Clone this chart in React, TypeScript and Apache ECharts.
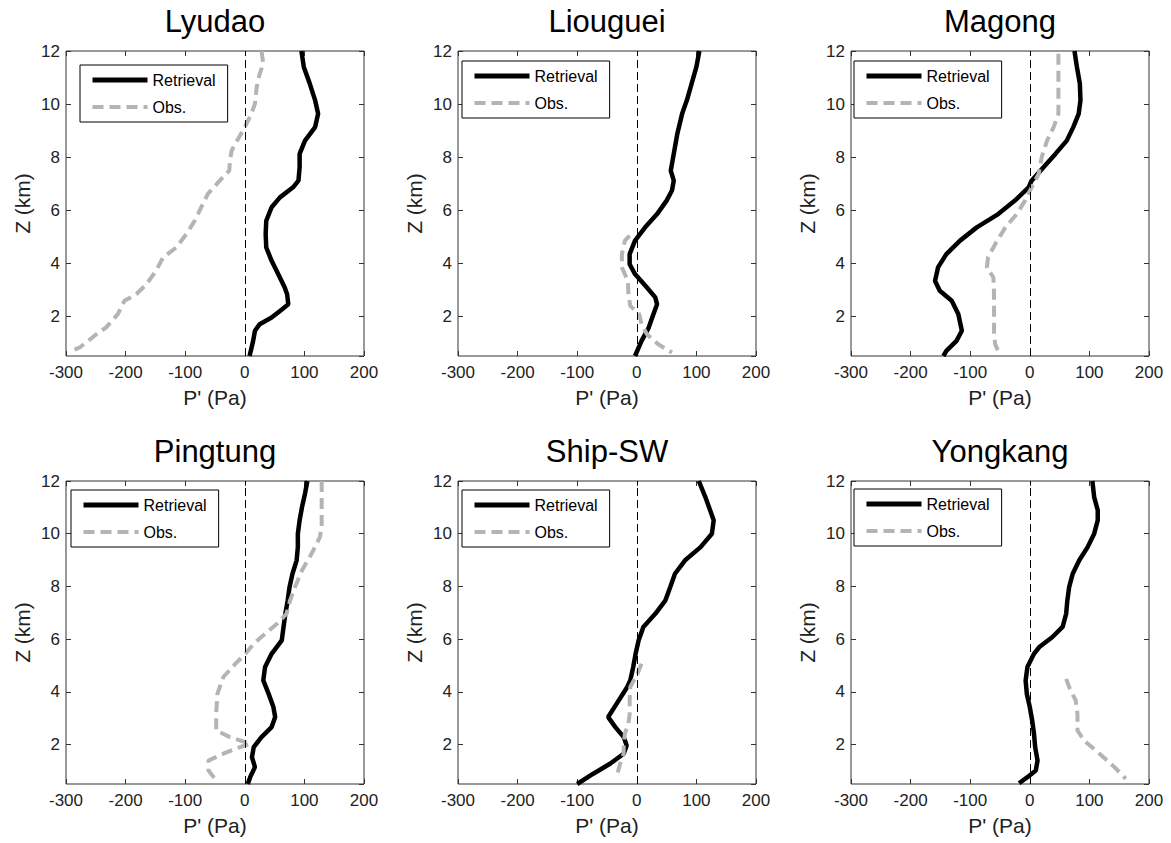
import React, { useEffect, useRef } from "react";
import * as echarts from "echarts";

// [P' (Pa), Z (km)] pairs
const lyudaoRetrieval = [[95,12],[99,11.4],[109,10.77],[118,10.14],[123,9.63],[118,9.13],[101,8.62],[92,8.12],[92,7.62],[90,7.11],[81,6.86],[59,6.48],[45,6.11],[36,5.6],[35,5.1],[36,4.59],[45,4.09],[56,3.59],[67,3.08],[71,2.83],[73,2.45],[59,2.2],[45,1.95],[25,1.7],[17,1.45],[14,1.07],[8,0.5]];
const lyudaoObs = [[28,12],[31,11.52],[25,11.14],[20,10.64],[17,10.01],[11,9.63],[0,9.13],[-13,8.62],[-22,8.25],[-25,7.87],[-26,7.49],[-42,7.11],[-62,6.61],[-73,6.11],[-84,5.6],[-98,5.1],[-115,4.59],[-137,4.22],[-149,3.71],[-165,3.21],[-182,2.83],[-202,2.58],[-213,2.08],[-233,1.57],[-249,1.32],[-277,0.82],[-291,0.69]];

const liougueiRetrieval = [[105,12],[100,11.4],[92,10.77],[84,10.14],[76,9.63],[68,8.88],[62,8.12],[57,7.49],[62,7.11],[59,6.74],[50,6.36],[34,5.85],[14,5.35],[-3,4.85],[-12,4.34],[-12,3.96],[-3,3.59],[17,3.08],[31,2.71],[34,2.45],[28,2.08],[20,1.57],[8,1.07],[-3,0.5]];
const liougueiObs = [[-12,5.04],[-20,4.85],[-25,4.34],[-25,3.84],[-15,3.33],[-14,2.83],[-11,2.39],[4,2.08],[8,1.7],[17,1.32],[36,0.94],[59,0.63]];

const magongRetrieval = [[75,12],[79,11.4],[84,10.77],[85,10.14],[82,9.63],[73,9.13],[62,8.62],[43,8.12],[23,7.62],[3,7.11],[-2,6.86],[-25,6.36],[-53,5.85],[-89,5.35],[-117,4.85],[-140,4.34],[-154,3.84],[-159,3.33],[-151,2.96],[-131,2.58],[-120,2.08],[-114,1.45],[-123,1.07],[-140,0.69],[-145,0.5]];
const magongObs = [[48,11.9],[48,10.77],[48,9.63],[40,9.13],[29,8.62],[20,8.0],[15,7.37],[3,6.86],[-8,6.36],[-22,5.85],[-41,5.35],[-58,4.72],[-70,4.22],[-72,3.84],[-61,3.46],[-60,2.83],[-60,1.95],[-60,1.32],[-58,0.94],[-53,0.69]];

const pingtungRetrieval = [[105,12],[101,11.52],[96,11.01],[92,10.51],[89,10.0],[89,9.49],[87,8.99],[80,8.48],[75,7.97],[72,7.47],[68,6.96],[65,6.46],[62,5.95],[45,5.44],[34,4.94],[31,4.43],[40,3.92],[48,3.42],[51,3.04],[45,2.66],[28,2.28],[15,1.9],[12,1.52],[17,1.14],[9,0.76],[5,0.5]];
const pingtungObs = [[129,12],[129,11.14],[129,10.25],[126,9.87],[112,9.24],[96,8.61],[84,7.97],[76,7.47],[70,6.96],[54,6.58],[34,6.2],[15,5.82],[1,5.44],[-16,5.06],[-36,4.56],[-46,3.92],[-48,3.16],[-48,2.53],[-25,2.28],[9,2.03],[-8,1.9],[-36,1.65],[-61,1.39],[-61,1.01],[-50,0.7]];

const shipSWRetrieval = [[104,12],[115,11.39],[123,10.89],[129,10.51],[126,10.0],[107,9.49],[81,8.99],[64,8.48],[56,7.97],[48,7.47],[31,6.96],[11,6.46],[3,5.95],[-2,5.44],[-6,4.94],[-11,4.43],[-16,4.18],[-34,3.54],[-48,3.04],[-36,2.66],[-22,2.28],[-17,1.96],[-22,1.65],[-45,1.27],[-73,0.89],[-100,0.5]];
const shipSWObs = [[8,5.06],[1,4.68],[-11,4.18],[-12,3.67],[-12,3.16],[-14,2.78],[-20,2.41],[-22,2.03],[-22,1.65],[-28,1.27],[-34,0.76]];

const yongkangRetrieval = [[105,12],[108,11.39],[114,10.89],[114,10.51],[108,10.0],[97,9.49],[83,8.99],[72,8.48],[66,7.97],[63,7.47],[61,6.96],[55,6.46],[38,6.08],[16,5.7],[7,5.44],[-4,4.94],[-7,4.43],[-5,3.92],[0,3.42],[4,2.91],[7,2.41],[9,1.9],[13,1.39],[10,1.01],[-4,0.76],[-18,0.53]];
const yongkangObs = [[61,4.49],[66,4.18],[77,3.67],[80,3.16],[80,2.53],[91,2.15],[117,1.65],[142,1.14],[161,0.7]];

const stationNames = ["Lyudao", "Liouguei", "Magong", "Pingtung", "Ship-SW", "Yongkang"];
const retrievalData = [lyudaoRetrieval, liougueiRetrieval, magongRetrieval, pingtungRetrieval, shipSWRetrieval, yongkangRetrieval];
const obsData = [lyudaoObs, liougueiObs, magongObs, pingtungObs, shipSWObs, yongkangObs];
const seriesNames = ["Retrieval", "Obs."];
const xRange = [-300, 200];
const yRange = [0.5, 12];

// layout
const gridLefts = [66, 458, 851];
const gridTops = [51, 481];
const gridHeights = [305, 303];
const gridWidth = 298;
const legendPos = [[80, 65], [462, 61], [854, 61], [71, 490], [462, 490], [854, 489]];
const titleTops = [6, 436];

const FONT = "'Liberation Sans', Arial, Helvetica, sans-serif";
const GRAY = "#b4b4b4";
const OBS_DASH = [11, 6];

function buildOption() {
  const grid: any[] = [];
  const xAxis: any[] = [];
  const yAxis: any[] = [];
  const series: any[] = [];
  const title: any[] = [];
  const legend: any[] = [];
  const hiddenSymbol = { color: "rgba(0,0,0,0)", borderWidth: 0, opacity: 0 };

  for (let i = 0; i < 6; i++) {
    const col = i % 3;
    const row = Math.floor(i / 3);
    const left = gridLefts[col];
    const top = gridTops[row];
    const height = gridHeights[row];
    grid.push({
      left, top, width: gridWidth, height,
      show: true, borderColor: "#333", borderWidth: 1, backgroundColor: "#fff",
    });
    title.push({
      text: stationNames[i],
      left: left + gridWidth / 2,
      top: titleTops[row],
      textAlign: "center",
      padding: 0,
      textStyle: { fontSize: 31, fontWeight: "normal", color: "#000", fontFamily: FONT },
    });
    const tick = { show: true, inside: true, length: 5, lineStyle: { color: "#333", width: 1 } };
    xAxis.push({
      type: "value", gridIndex: i, position: "bottom", min: xRange[0], max: xRange[1], interval: 100,
      axisLine: { show: false, onZero: false }, axisTick: tick, splitLine: { show: false },
      axisLabel: { margin: 8, fontSize: 17, color: "#222", fontFamily: FONT },
      name: "P' (Pa)", nameLocation: "middle", nameGap: 31, nameMoveOverlap: false,
      nameTextStyle: { fontSize: 21, color: "#222", fontFamily: FONT },
    });
    xAxis.push({
      type: "value", gridIndex: i, position: "top", min: xRange[0], max: xRange[1], interval: 100,
      axisLine: { show: false, onZero: false }, axisTick: tick, splitLine: { show: false },
      axisLabel: { show: false },
    });
    yAxis.push({
      type: "value", gridIndex: i, position: "left", min: yRange[0], max: yRange[1], splitNumber: 5,
      axisLine: { show: false, onZero: false }, axisTick: tick, splitLine: { show: false },
      axisLabel: { margin: 6, fontSize: 17, color: "#222", fontFamily: FONT, showMinLabel: false },
      name: "Z (km)", nameLocation: "middle", nameGap: 33, nameMoveOverlap: false,
      nameTextStyle: { fontSize: 21, color: "#222", fontFamily: FONT },
    });
    yAxis.push({
      type: "value", gridIndex: i, position: "right", min: yRange[0], max: yRange[1], splitNumber: 5,
      axisLine: { show: false, onZero: false }, axisTick: tick, splitLine: { show: false },
      axisLabel: { show: false },
    });
    series.push({
      name: seriesNames[0], type: "line", xAxisIndex: 2 * i, yAxisIndex: 2 * i,
      data: retrievalData[i], symbol: "none", showSymbol: false,
      lineStyle: { color: "#000", width: 4.5 }, itemStyle: { color: "#000" },
      markLine: {
        silent: true, symbol: ["none", "none"], label: { show: false },
        lineStyle: { color: "#000", width: 1, type: [8, 4] },
        data: [{ xAxis: 0 }],
      },
      z: 3,
    });
    series.push({
      name: seriesNames[1], type: "line", xAxisIndex: 2 * i, yAxisIndex: 2 * i,
      data: obsData[i], symbol: "none", showSymbol: false,
      lineStyle: { color: GRAY, width: 4, type: OBS_DASH }, itemStyle: { color: GRAY },
      z: 4,
    });
    legend.push({
      orient: "vertical",
      left: legendPos[i][0], top: legendPos[i][1],
      itemWidth: 55, itemHeight: 16, itemGap: 11,
      padding: [7, 12, 7, 10],
      borderColor: "#000", borderWidth: 1, backgroundColor: "#fff",
      selectedMode: false,
      textStyle: { fontSize: 16, color: "#000", fontFamily: FONT },
      data: [
        { name: seriesNames[0], itemStyle: hiddenSymbol, lineStyle: { color: "#000", width: 5, type: "solid" } },
        { name: seriesNames[1], itemStyle: hiddenSymbol, lineStyle: { color: GRAY, width: 4, type: OBS_DASH } },
      ],
    });
  }

  return {
    animation: false,
    backgroundColor: "#fff",
    title, grid, xAxis, yAxis, series, legend,
  };
}

export default function App() {
  const ref = useRef<HTMLDivElement>(null);
  useEffect(() => {
    if (!ref.current) return;
    const chart = echarts.init(ref.current, undefined, { renderer: "svg" });
    chart.setOption(buildOption() as any);
    return () => chart.dispose();
  }, []);
  return (
    <div
      ref={ref}
      style={{ position: "absolute", left: 0, top: 0, width: 1171, height: 843, background: "#fff" }}
    />
  );
}
